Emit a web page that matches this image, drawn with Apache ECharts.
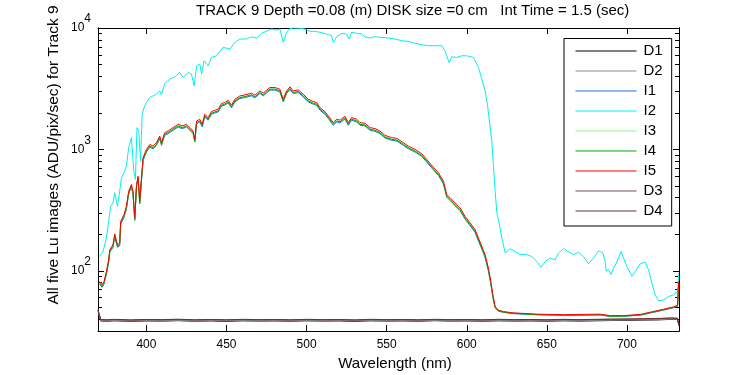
<!DOCTYPE html>
<html>
<head>
<meta charset="utf-8">
<script src="https://cdn.jsdelivr.net/npm/echarts@6.0.0/dist/echarts.min.js"></script>
<style>
html, body { margin: 0; padding: 0; background: #fff; }
#chart-container { width: 750px; height: 375px; }
</style>
</head>
<body>
<div id="chart-container"></div>
<script>
// wavelengths (nm) for the four close "I" curves
var waveI = [
  370.8, 372.3, 373.5, 375.0, 376.4, 377.1, 379.1, 380.2, 381.9, 383.3,
  383.9, 386.0, 387.5, 388.9, 390.6, 391.6, 392.7, 393.8, 394.8, 395.8,
  396.9, 397.9, 400.0, 402.1, 404.1, 406.3, 408.3, 409.4, 411.4, 413.5,
  416.6, 419.8, 422.3, 425.0, 427.1, 429.1, 430.2, 431.3, 433.3, 434.8,
  436.4, 438.5, 440.6, 442.7, 444.8, 446.9, 448.9, 451.0, 453.1, 455.2,
  458.3, 461.4, 465.6, 467.7, 470.8, 472.9, 475.0, 477.1, 480.2, 483.3,
  485.4, 487.5, 489.6, 491.6, 494.8, 497.9, 501.0, 504.1, 506.3, 508.3,
  511.4, 514.1, 516.6, 518.8, 520.8, 523.9, 526.0, 528.1, 531.3, 533.3,
  536.4, 539.6, 542.7, 545.8, 548.9, 553.1, 556.3, 560.4, 563.5, 567.7,
  571.9, 575.0, 578.5, 582.3, 585.4, 587.5, 589.6, 592.7, 595.8, 598.9,
  602.1, 605.2, 607.3, 609.4, 611.4, 613.5, 615.0, 616.3, 617.7, 619.8,
  622.9, 629.1, 643.8, 660.4, 683.3, 689.6, 697.7, 708.3, 714.6, 722.9,
  729.0, 731.6, 732.3
];
var i5 = [
  81.6, 76.6, 81.6, 98.6, 123, 149, 164, 201, 164, 169,
  255, 290, 340, 452, 514, 452, 273, 514, 601, 374,
  583, 854, 1000, 1099, 1064, 1136, 1288, 1136, 1374, 1417,
  1511, 1609, 1558, 1609, 1511, 1417, 1210, 1713, 1770, 1609,
  1947, 1828, 2050, 2100, 2141, 2388, 2432, 2541, 2311, 2588,
  2756, 2812, 2904, 2794, 3034, 2904, 3074, 3236, 3236, 3133,
  2588, 3034, 3273, 3034, 3091, 2849, 2588, 2479, 2432, 2211,
  2050, 1849, 1662, 1770, 1738, 1874, 1662, 1828, 1770, 1662,
  1640, 1511, 1483, 1417, 1305, 1249, 1233, 1136, 1064, 1000,
  921, 827, 728, 642, 547, 425, 399, 362, 330, 281,
  248, 218, 186, 159, 136, 105, 81.6, 63.3, 50.7, 47.3,
  46.1, 45.0, 43.9, 43.5, 43.9, 42.7, 42.7, 43.7, 45.6, 48.2,
  50.4, 51.9, 81.6
];
var i4 = [
  79, 74, 79, 95, 119, 144, 159, 194, 159, 164,
  246, 281, 329, 437, 497, 438, 265, 498, 582, 362,
  566, 826, 968, 1063, 1030, 1101, 1247, 1101, 1330, 1372,
  1463, 1558, 1509, 1557, 1463, 1372, 1172, 1658, 1713, 1558,
  1884, 1770, 1985, 2033, 2072, 2311, 2355, 2460, 2237, 2505,
  2668, 2722, 2811, 2705, 2937, 2811, 2976, 3132, 3132, 3033,
  2505, 2937, 3168, 2937, 2992, 2758, 2505, 2400, 2354, 2140,
  1985, 1790, 1609, 1713, 1682, 1814, 1609, 1770, 1713, 1609,
  1588, 1463, 1435, 1372, 1263, 1209, 1193, 1100, 1030, 968,
  891, 800, 704, 620, 528, 410, 385, 349, 318, 271,
  239, 210, 179, 153, 131, 101, 79, 61.5, 49.8, 46.8,
  45.6, 44.6, 43.5, 43.0, 43.4, 42.2, 42.3, 43.2, 45.1, 47.7,
  49.9, 51.4, 79
];
var i1 = [
  78, 73, 78, 94, 117, 142, 156, 191, 156, 161,
  242, 276, 323, 430, 489, 430, 260, 489, 572, 356,
  555, 812, 951, 1045, 1012, 1080, 1225, 1080, 1306, 1348,
  1437, 1530, 1482, 1530, 1437, 1348, 1151, 1629, 1683, 1530,
  1851, 1739, 1950, 1997, 2036, 2271, 2313, 2417, 2198, 2461,
  2621, 2674, 2762, 2657, 2885, 2762, 2924, 3077, 3077, 2980,
  2461, 2885, 3113, 2885, 2940, 2710, 2461, 2358, 2313, 2103,
  1950, 1758, 1581, 1683, 1653, 1782, 1581, 1739, 1683, 1581,
  1560, 1437, 1410, 1348, 1241, 1188, 1172, 1080, 1012, 951,
  876, 786, 692, 610, 520, 404, 379, 344, 313, 267,
  235, 207, 176, 151, 129, 100, 77.6, 60.5, 49.4, 46.5,
  45.4, 44.3, 43.4, 42.9, 43.2, 42.0, 42.2, 43.0, 44.9, 47.4,
  49.6, 51.0, 78
];
var i3 = [
  80, 75, 80, 96, 120, 145, 160, 196, 160, 165,
  248, 283, 331, 440, 500, 440, 267, 500, 585, 365,
  570, 830, 972, 1068, 1035, 1105, 1252, 1105, 1336, 1378,
  1470, 1565, 1515, 1563, 1470, 1378, 1178, 1665, 1720, 1565,
  1893, 1778, 1993, 2042, 2081, 2322, 2365, 2470, 2247, 2516,
  2680, 2734, 2823, 2717, 2950, 2823, 2989, 3146, 3146, 3046,
  2516, 2950, 3182, 2950, 3005, 2770, 2516, 2410, 2365, 2150,
  1993, 1798, 1616, 1720, 1690, 1822, 1616, 1778, 1720, 1616,
  1595, 1470, 1441, 1378, 1269, 1214, 1199, 1105, 1035, 972,
  895, 804, 708, 624, 532, 413, 388, 352, 320, 273,
  241, 212, 181, 155, 132, 102, 80, 62, 50, 47,
  45.8, 44.8, 43.7, 43.2, 43.6, 42.4, 42.5, 43.4, 45.3, 47.9,
  50.1, 51.6, 80
];

// the brighter cyan curve
var waveI2 = [
  370.8, 372.9, 375.0, 376.4, 377.7, 379.1, 380.2, 381.9, 383.3, 384.4,
  386.4, 387.5, 388.9, 390.6, 392.1, 393.1, 394.1, 395.2, 396.3, 397.3,
  398.5, 400.0, 402.1, 404.1, 406.3, 408.3, 409.4, 411.4, 414.6, 417.7,
  420.8, 422.9, 426.0, 428.1, 429.8, 431.3, 433.3, 434.4, 436.0, 438.5,
  440.6, 443.8, 445.8, 447.9, 452.1, 455.2, 458.3, 462.5, 465.6, 468.8,
  471.9, 475.0, 478.1, 481.3, 483.3, 485.4, 487.5, 489.6, 491.6, 495.8,
  498.9, 502.1, 505.2, 508.3, 512.5, 515.6, 516.6, 518.8, 521.9, 525.0,
  526.6, 528.1, 531.3, 534.4, 536.4, 539.6, 542.7, 546.9, 551.0, 555.2,
  559.4, 563.5, 567.7, 571.9, 576.0, 580.2, 584.4, 586.4, 588.9, 590.6,
  593.8, 596.9, 600.0, 604.1, 605.2, 607.3, 609.4, 611.4, 612.9, 614.1,
  615.6, 616.6, 617.7, 618.8, 620.4, 621.9, 624.0, 627.1, 630.2, 632.9,
  636.4, 640.6, 643.8, 646.4, 648.9, 652.1, 655.2, 657.3, 660.4, 663.5,
  666.6, 669.8, 672.9, 676.0, 679.1, 682.3, 683.3, 685.0, 686.4, 687.1,
  688.5, 690.0, 691.6, 693.8, 696.3, 697.9, 700.0, 703.1, 705.2, 708.3,
  711.4, 713.5, 715.6, 717.7, 719.8, 722.9, 726.0, 729.1, 731.6, 732.3
];
var i2 = [
  131, 144, 186, 255, 340, 362, 439, 340, 452, 583,
  662, 728, 1033, 1249, 662, 565, 1511, 1417, 800, 1947,
  2211, 2432, 2675, 2756, 2849, 3034, 2812, 3490, 3789, 3959,
  4305, 3914, 4305, 4169, 3335, 4880, 5040, 4169, 5370, 4880,
  5725, 5904, 6420, 6927, 6706, 7620, 8110, 8110, 8475, 8268,
  9040, 9390, 9810, 9627, 9810, 7620, 9215, 9870, 10000, 9950,
  9810, 9390, 9390, 9215, 8920, 8636, 7620, 8475, 9040, 8920,
  8110, 9215, 9040, 8920, 8475, 8268, 8475, 8377, 8268, 8110,
  7853, 7765, 7475, 7280, 7145, 7145, 7145, 6494, 5205, 5795,
  5725, 5904, 5904, 5725, 5546, 4732, 3789, 3034, 2355, 1713,
  1171, 751, 452, 300, 240, 186, 140, 152, 144, 136,
  137, 131, 119, 107, 119, 127, 123, 140, 152, 143,
  136, 142, 131, 114, 127, 146, 147, 140, 119, 99,
  102, 93, 105, 119, 144, 127, 108, 90, 99, 114,
  118, 102, 79, 63, 56.5, 57.5, 61.4, 63.3, 67.4, 95.7
];

// dark frames, flat near the floor
var waveD = [
  369.8, 370.5, 371.5, 375, 380, 390, 400, 410, 420, 430,
  440, 450, 460, 470, 480, 490, 500, 510, 520, 530,
  540, 550, 560, 570, 580, 590, 600, 610, 620, 630,
  640, 650, 660, 670, 680, 690, 700, 710, 720, 728,
  731.5, 732.5
];
var d1 = [
  47.0, 42.5, 38.6, 38.4, 38.7, 38.3, 38.6, 38.5, 38.8, 38.4,
  38.6, 38.3, 38.7, 38.5, 38.6, 38.4, 38.7, 38.5, 38.6, 38.3,
  38.7, 38.5, 38.6, 38.4, 38.8, 38.5, 38.6, 38.4, 38.7, 38.5,
  38.6, 38.4, 38.7, 38.5, 38.7, 38.9, 39.0, 39.2, 39.4, 39.8,
  39.6, 35.5
];
var d2 = [
  46.5, 42.8, 38.9, 38.7, 38.9, 38.6, 38.9, 38.7, 39.0, 38.6,
  38.9, 38.7, 38.9, 38.6, 38.9, 38.7, 38.9, 38.6, 38.8, 38.7,
  38.9, 38.6, 38.9, 38.7, 38.9, 38.6, 38.8, 38.7, 38.9, 38.6,
  38.9, 38.7, 38.9, 38.8, 39.0, 39.1, 39.3, 39.4, 39.6, 40.0,
  39.8, 36.0
];
var d3 = [
  48.0, 43.5, 39.5, 39.3, 39.6, 39.2, 39.5, 39.4, 39.7, 39.3,
  39.5, 39.3, 39.6, 39.4, 39.5, 39.3, 39.6, 39.4, 39.5, 39.2,
  39.6, 39.4, 39.5, 39.3, 39.6, 39.4, 39.5, 39.3, 39.6, 39.4,
  39.5, 39.3, 39.6, 39.4, 39.6, 39.8, 39.9, 40.1, 40.3, 40.7,
  40.5, 36.0
];
var d4 = [
  47.5, 43.8, 39.7, 39.5, 39.8, 39.4, 39.7, 39.6, 39.9, 39.5,
  39.7, 39.5, 39.8, 39.6, 39.7, 39.5, 39.8, 39.6, 39.7, 39.4,
  39.8, 39.6, 39.7, 39.5, 39.8, 39.6, 39.7, 39.5, 39.8, 39.6,
  39.7, 39.5, 39.8, 39.6, 39.8, 40.0, 40.1, 40.3, 40.5, 40.9,
  40.7, 35.0
];

var xTicks = [400, 450, 500, 550, 600, 650, 700];
var yMajor = [100, 1000, 10000];
var yMinor = [40, 50, 60, 70, 80, 90, 200, 300, 400, 500, 600, 700, 800, 900,
  2000, 3000, 4000, 5000, 6000, 7000, 8000, 9000];

var font = 'Liberation Sans, Arial, Helvetica, sans-serif';

var dom = document.getElementById('chart-container');
var myChart = echarts.init(dom, null, { renderer: 'canvas' });

function pairs(w, v) {
  return w.map(function (x, i) { return [x, v[i]]; });
}

function line(name, color, w, v) {
  return {
    name: name, type: 'line', data: pairs(w, v),
    symbol: 'none', showSymbol: false, color: color,
    lineStyle: { color: color, width: 1 },
    emphasis: { disabled: true }, animation: false
  };
}

function xAx(pos, labels) {
  return {
    type: 'value', position: pos, min: 369.75, max: 732.5,
    axisLine: { show: true, onZero: false, lineStyle: { color: '#000', width: 1 } },
    axisTick: { show: true, inside: true, length: 6, customValues: xTicks, lineStyle: { color: '#000' } },
    axisLabel: { show: labels, customValues: xTicks, color: '#000', fontSize: 12, fontFamily: font, margin: 8 },
    splitLine: { show: false }
  };
}

function yAx(pos, ticks, len, labels) {
  return {
    type: 'log', logBase: 10, position: pos, min: 31.9, max: 10000,
    axisLine: { show: true, onZero: false, lineStyle: { color: '#000', width: 1 } },
    axisTick: { show: true, inside: true, length: len, customValues: ticks, lineStyle: { color: '#000' } },
    axisLabel: {
      show: labels, customValues: yMajor, margin: 7,
      formatter: function (v) {
        return '{b|10}{s|' + Math.round(Math.log10(v)) + '}';
      },
      rich: {
        b: { fontSize: 12, fontFamily: font, color: '#000' },
        s: { fontSize: 12, fontFamily: font, color: '#000', padding: [0, 0, 18, 0] }
      }
    },
    splitLine: { show: false },
    minorTick: { show: false }
  };
}

var option = {
  backgroundColor: '#fff',
  animation: false,
  textStyle: { fontFamily: font },
  grid: { left: 98, right: 71, top: 28, bottom: 44, containLabel: false },
  xAxis: [xAx('bottom', true), xAx('top', false)],
  yAxis: [
    yAx('left', yMajor, 6, true),
    yAx('left', yMinor, 4, false),
    yAx('right', yMajor, 6, false),
    yAx('right', yMinor, 4, false)
  ],
  legend: {
    orient: 'vertical', left: 564, top: 38.5,
    data: ['D1', 'D2', 'I1', 'I2', 'I3', 'I4', 'I5', 'D3', 'D4'],
    itemWidth: 61, itemHeight: 14, itemGap: 5,
    padding: [5, 9, 7.5, 11],
    itemStyle: { opacity: 0 },
    lineStyle: { width: 1 },
    borderColor: '#000', borderWidth: 1, borderRadius: 0,
    backgroundColor: '#fff', selectedMode: false,
    textStyle: { color: '#000', fontSize: 15, fontFamily: font, padding: [0, 0, 0, 2] }
  },
  graphic: [
    {
      type: 'text', left: 196, top: 3,
      style: { text: 'TRACK 9 Depth =0.08 (m) DISK size =0 cm   Int Time = 1.5 (sec)', font: '15px ' + font, fill: '#000' }
    },
    {
      type: 'text', x: 395, y: 364,
      style: { text: 'Wavelength (nm)', font: '15px ' + font, fill: '#000', textAlign: 'center', textVerticalAlign: 'middle' }
    },
    {
      type: 'text', x: 54, y: 155, rotation: Math.PI / 2,
      style: { text: 'All five Lu images (ADU/pix/sec) for Track 9', font: '15.5px ' + font, fill: '#000', textAlign: 'center', textVerticalAlign: 'middle' }
    }
  ],
  series: [
    line('D1', '#000000', waveD, d1),
    line('D2', '#8c8c8c', waveD, d2),
    line('I1', '#1874e0', waveI, i1),
    line('I2', '#00f0f0', waveI2, i2),
    line('I3', '#80ff80', waveI, i3),
    line('I4', '#00aa00', waveI, i4),
    line('I5', '#ff0000', waveI, i5),
    line('D3', '#7f4f4f', waveD, d3),
    line('D4', '#6f2f2f', waveD, d4)
  ]
};

myChart.setOption(option);
window.addEventListener('resize', myChart.resize);
</script>
</body>
</html>
